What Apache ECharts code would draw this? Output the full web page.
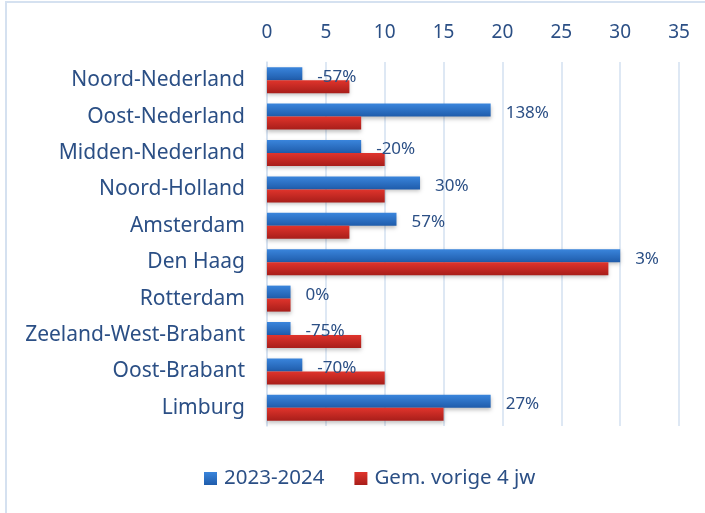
<!DOCTYPE html>
<html><head><meta charset="utf-8">
<script src="https://cdn.jsdelivr.net/npm/echarts@6/dist/echarts.min.js"></script>
<style>html,body{margin:0;padding:0;background:#fff}#frame{position:absolute;left:5px;top:1px;width:720px;height:530px;border:2px solid #d5e1f0;box-sizing:border-box}#c{width:705px;height:513px}</style>
</head><body><div id="frame"></div><div id="c" style="position:absolute;left:0;top:0"></div>
<script>
const categories = ["Noord-Nederland","Oost-Nederland","Midden-Nederland","Noord-Holland","Amsterdam","Den Haag","Rotterdam","Zeeland-West-Brabant","Oost-Brabant","Limburg"];
const current = [3,19,8,13,11,30,2,2,3,19];
const previous = [7,8,10,10,7,29,2,8,10,15];
const pctLabels = ["-57%","138%","-20%","30%","57%","3%","0%","-75%","-70%","27%"];
const ticks = [0,5,10,15,20,25,30,35];
const seriesNames = ["2023-2024","Gem. vorige 4 jw"];

const font = "Noto Sans";
const chart = echarts.init(document.getElementById('c'));
chart.setOption({
  animation:false,
  grid:{left:267,right:26,top:62,bottom:87,containLabel:false},
  xAxis:{type:'value',position:'top',min:ticks[0],max:ticks[ticks.length-1],interval:5,
    axisLine:{show:false},axisTick:{show:false},
    axisLabel:{color:'#2b4f85',fontFamily:font,fontSize:19,margin:20},
    splitLine:{lineStyle:{color:'#d3e0f1',width:1.5}}},
  yAxis:{type:'category',data:categories,inverse:true,
    axisLine:{show:true,lineStyle:{color:'#d3e0f1',width:1.5}},axisTick:{show:false},
    axisLabel:{color:'#2b4f85',fontFamily:font,fontSize:21,margin:22}},
  legend:{bottom:19,left:199,itemWidth:13,itemHeight:13,itemGap:30,icon:'rect',
    textStyle:{color:'#2b4f85',fontFamily:font,fontSize:20.5,padding:[0,0,0,2]},data:seriesNames},
  series:[
    {name:seriesNames[0],type:'bar',data:current,barWidth:13,barGap:'0%',
     itemStyle:{color:new echarts.graphic.LinearGradient(0,0,0,1,[{offset:0,color:'#3a85dc'},{offset:1,color:'#1f5cab'}]),
       shadowColor:'rgba(0,0,0,0.25)',shadowBlur:4,shadowOffsetY:2},
     label:{show:true,position:'right',distance:15,offset:[0,3],color:'#2b4f85',fontFamily:font,fontSize:17,
       formatter:p=>pctLabels[p.dataIndex]}},
    {name:seriesNames[1],type:'bar',data:previous,barWidth:13,
     itemStyle:{color:new echarts.graphic.LinearGradient(0,0,0,1,[{offset:0,color:'#e0342c'},{offset:1,color:'#a81e1a'}]),
       shadowColor:'rgba(0,0,0,0.25)',shadowBlur:4,shadowOffsetY:2}}
  ]
});
</script></body></html>
